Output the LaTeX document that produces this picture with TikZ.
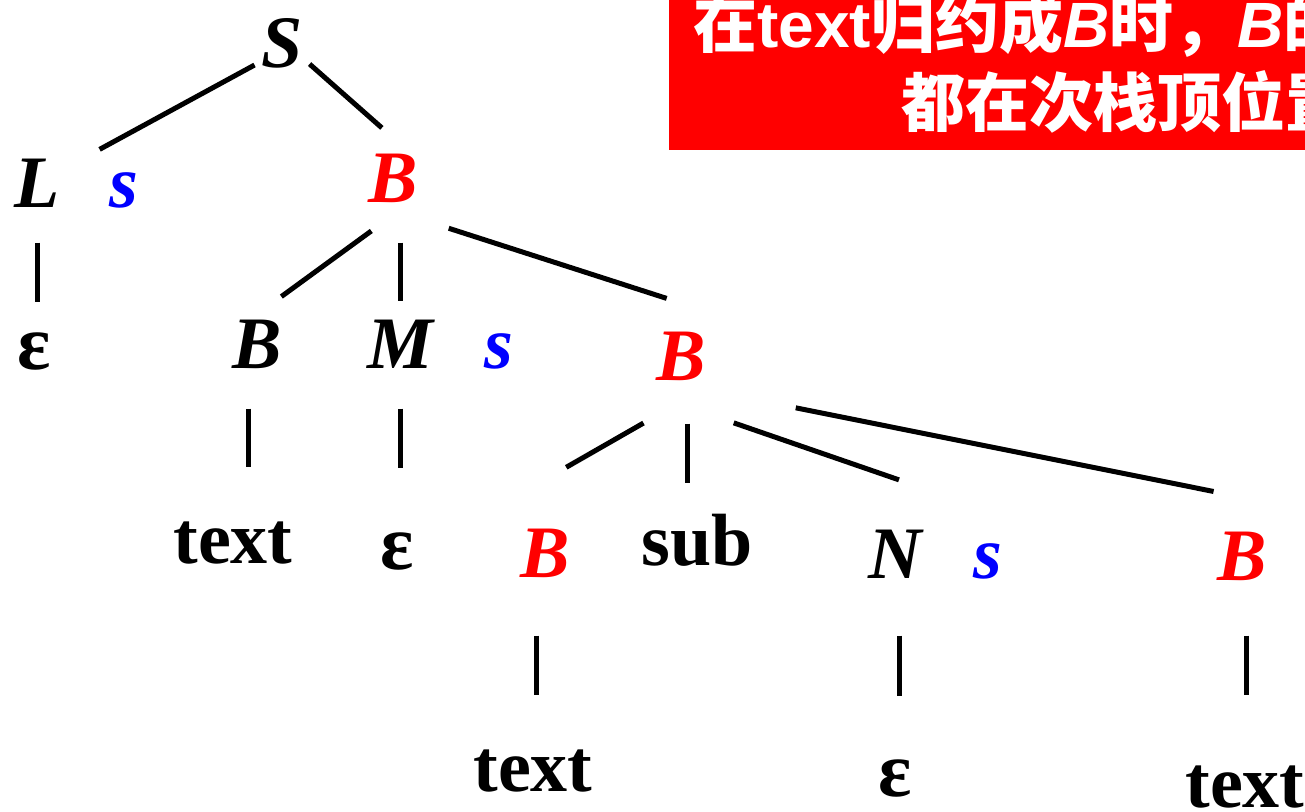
\documentclass[tikz,border=0pt]{standalone}
\usepackage{fontspec}
\setmainfont{Liberation Serif}
\newfontfamily\cjk{Noto Sans CJK SC}
\newfontfamily\boxsans{Liberation Sans}
\usetikzlibrary{calc}

\begin{document}
\begin{tikzpicture}[x=1pt, y=-1pt, line width=5pt,
    sym/.style={inner sep=0pt, anchor=base, text height=90pt, text depth=30pt,
        font=\fontsize{74}{80}\selectfont\bfseries\itshape},
    tm/.style={sym, font=\fontsize{74}{80}\selectfont\bfseries},
    attr/.style={sym, text=blue},
    hl/.style={sym, text=red},
    tip/.style={anchor=base west, inner sep=0pt, text=white,
        font=\fontsize{64}{70}\selectfont\bfseries}]
    \useasboundingbox (0,0) rectangle (1305,811);
    \clip (0,0) rectangle (1305,811);

    % 提示框
    \fill[red] (669,-20) rectangle (1330,150);
    \node[tip] (tip1) at (691,47) {\cjk 在{\boxsans text}归约成{\boxsans\itshape B}时，{\boxsans\itshape B}的};
    \node[tip] (tip2) at (899,126) {\cjk 都在次栈顶位置};

    % 语法树节点
    \node[sym] (S) at (282,67) {S};
    \node[sym] (L) at (37,207) {L};
    \node[attr] (s1) at (124,207) {s};
    \node[hl] (B1) at (393,202) {B};
    \node[tm, font=\fontsize{78}{80}\selectfont\bfseries] (e1) at (34,369) {ε};
    \node[sym] (B2) at (257,368) {B};
    \node[sym] (M) at (400,368) {M};
    \node[attr] (s2) at (499,368) {s};
    \node[hl] (B3) at (681,380) {B};
    \node[tm] (t1) at (233,563) {text};
    \node[tm, font=\fontsize{78}{80}\selectfont\bfseries] (e2) at (397,569) {ε};
    \node[hl] (B4) at (545,577) {B};
    \node[tm] (sub) at (697,565) {sub};
    \node[sym] (N) at (895,578) {N};
    \node[attr] (s3) at (988,578) {s};
    \node[hl] (B5) at (1242,580) {B};
    \node[tm] (t2) at (533,791) {text};
    \node[tm, font=\fontsize{78}{80}\selectfont\bfseries] (e3) at (895,796) {ε};
    \node[tm] (t3) at (1245,807) {text};

    % 树边
    \draw[shorten <=5pt, shorten >=42.7pt] (S.228) -- (L.16);
    \draw[shorten <=6pt, shorten >=-21.4pt] (S.-45) -- (B1.115);
    \draw[shorten <=3pt, shorten >=-25pt] (L.south) -- (L.south |- e1.north);
    \draw[shorten <=-6pt, shorten >=-3.5pt] (B1.247) -- (B2.58);
    \draw[shorten <=8pt, shorten >=-25pt] (M.north |- B1.south) -- (M.north);
    \draw[shorten <=30pt, shorten >=-13.5pt] (B1.-60) -- (B3.116);
    \draw[shorten <=8pt, shorten >=4pt] (B2.262) -- (B2.262 |- t1.north);
    \draw[shorten <=8pt, shorten >=9pt] (M.south) -- (M.south |- e2.north);
    \draw[shorten <=21.2pt, shorten >=34.6pt] (B3.253) -- (B4.98);
    \draw[shorten <=11pt, shorten >=-10pt] (B3.-84) -- (B3.-84 |- sub.north);
    \draw[shorten <=31.7pt, shorten >=17.3pt] (B3.-70) -- (N.72);
    \draw[shorten <=89.3pt, shorten >=1.3pt] (B3.-56) -- (B5.115);
    \draw[shorten <=26pt, shorten >=4pt] (B4.262) -- (B4.262 |- t2.north);
    \draw[shorten <=25pt, shorten >=8pt] (N.-86) -- (N.-86 |- e3.north);
    \draw[shorten <=23pt, shorten >=20pt] (B5.-86) -- (B5.-86 |- t3.north);
\end{tikzpicture}
\end{document}
